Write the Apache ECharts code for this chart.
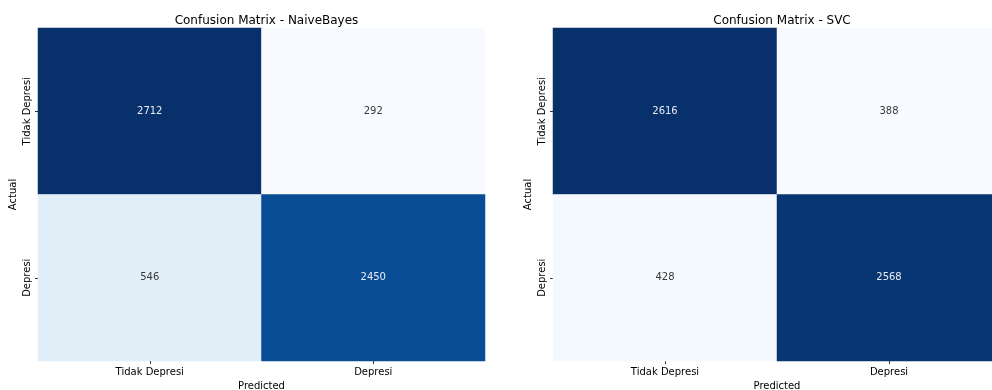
<!DOCTYPE html>
<html>
<head>
<meta charset="utf-8">
<script src="https://cdn.jsdelivr.net/npm/echarts@6/dist/echarts.min.js"></script>
<style>
  html, body { margin: 0; padding: 0; background: #ffffff; }
  #chart { width: 992px; height: 390px; }
</style>
</head>
<body>
<div id="chart"></div>
<script>
// Class labels (rows = actual, columns = predicted)
const categories = ['Tidak Depresi', 'Depresi'];

// Confusion matrices, row-major: [actual][predicted]
const naiveBayesMatrix = [
  [2712, 292],
  [546, 2450]
];
const svcMatrix = [
  [2616, 388],
  [428, 2568]
];

const titles = ['Confusion Matrix - NaiveBayes', 'Confusion Matrix - SVC'];

// Matplotlib "Blues" colour ramp
const blues = ['#f7fbff', '#deebf7', '#c6dbef', '#9ecae1', '#6baed6', '#4292c6', '#2171b5', '#08519c', '#08306b'];

const FONT = 'DejaVu Sans, sans-serif';

function cellData(matrix) {
  const flat = matrix.flat();
  const lo = Math.min(...flat), hi = Math.max(...flat);
  const out = [];
  matrix.forEach((row, r) => {
    row.forEach((v, c) => {
      const t = (v - lo) / (hi - lo);
      out.push({
        value: [c, r, v],
        label: { color: t > 0.5 ? '#e8ecf2' : '#3a3a3a' }
      });
    });
  });
  return out;
}

const matrices = [naiveBayesMatrix, svcMatrix];
const grids = [
  { left: 38, top: 28, width: 447, height: 333, outerBoundsMode: 'none', containLabel: false },
  { left: 553, top: 28, width: 448, height: 333, outerBoundsMode: 'none', containLabel: false }
];

const option = {
  backgroundColor: '#ffffff',
  animation: false,
  title: titles.map((t, i) => ({
    text: t,
    left: grids[i].left + grids[i].width / 2,
    top: 10,
    textAlign: 'center',
    textStyle: { fontFamily: FONT, fontSize: 12, fontWeight: 'normal', color: '#000' }
  })),
  grid: grids,
  xAxis: matrices.map((m, i) => ({
    type: 'category',
    gridIndex: i,
    data: categories,
    position: 'bottom',
    name: 'Predicted',
    nameLocation: 'middle',
    nameGap: 19,
    nameTextStyle: { fontFamily: FONT, fontSize: 10, color: '#000' },
    axisLine: { show: false },
    axisTick: { show: true, alignWithLabel: true, length: 3, lineStyle: { color: '#333' } },
    axisLabel: { fontFamily: FONT, fontSize: 10, color: '#000', margin: 6 },
    splitLine: { show: false }
  })),
  yAxis: matrices.map((m, i) => ({
    type: 'category',
    gridIndex: i,
    data: categories,
    inverse: true,
    name: 'Actual',
    nameLocation: 'middle',
    nameRotate: 90,
    nameGap: 20,
    nameTextStyle: { fontFamily: FONT, fontSize: 10, color: '#000' },
    axisLine: { show: false },
    axisTick: { show: true, alignWithLabel: true, length: 3, lineStyle: { color: '#333' } },
    axisLabel: { fontFamily: FONT, fontSize: 10, color: '#000', rotate: 90, margin: 6 },
    splitLine: { show: false }
  })),
  visualMap: matrices.map((m, i) => ({
    show: false,
    seriesIndex: i,
    dimension: 2,
    min: Math.min(...m.flat()),
    max: Math.max(...m.flat()),
    inRange: { color: blues }
  })),
  series: matrices.map((m, i) => ({
    type: 'heatmap',
    xAxisIndex: i,
    yAxisIndex: i,
    data: cellData(m),
    label: {
      show: true,
      fontFamily: FONT,
      fontSize: 10,
      formatter: p => String(p.value[2])
    },
    itemStyle: { borderWidth: 0 },
    emphasis: { disabled: true }
  }))
};

echarts.init(document.getElementById('chart'), null, { renderer: 'canvas' }).setOption(option);
</script>
</body>
</html>
